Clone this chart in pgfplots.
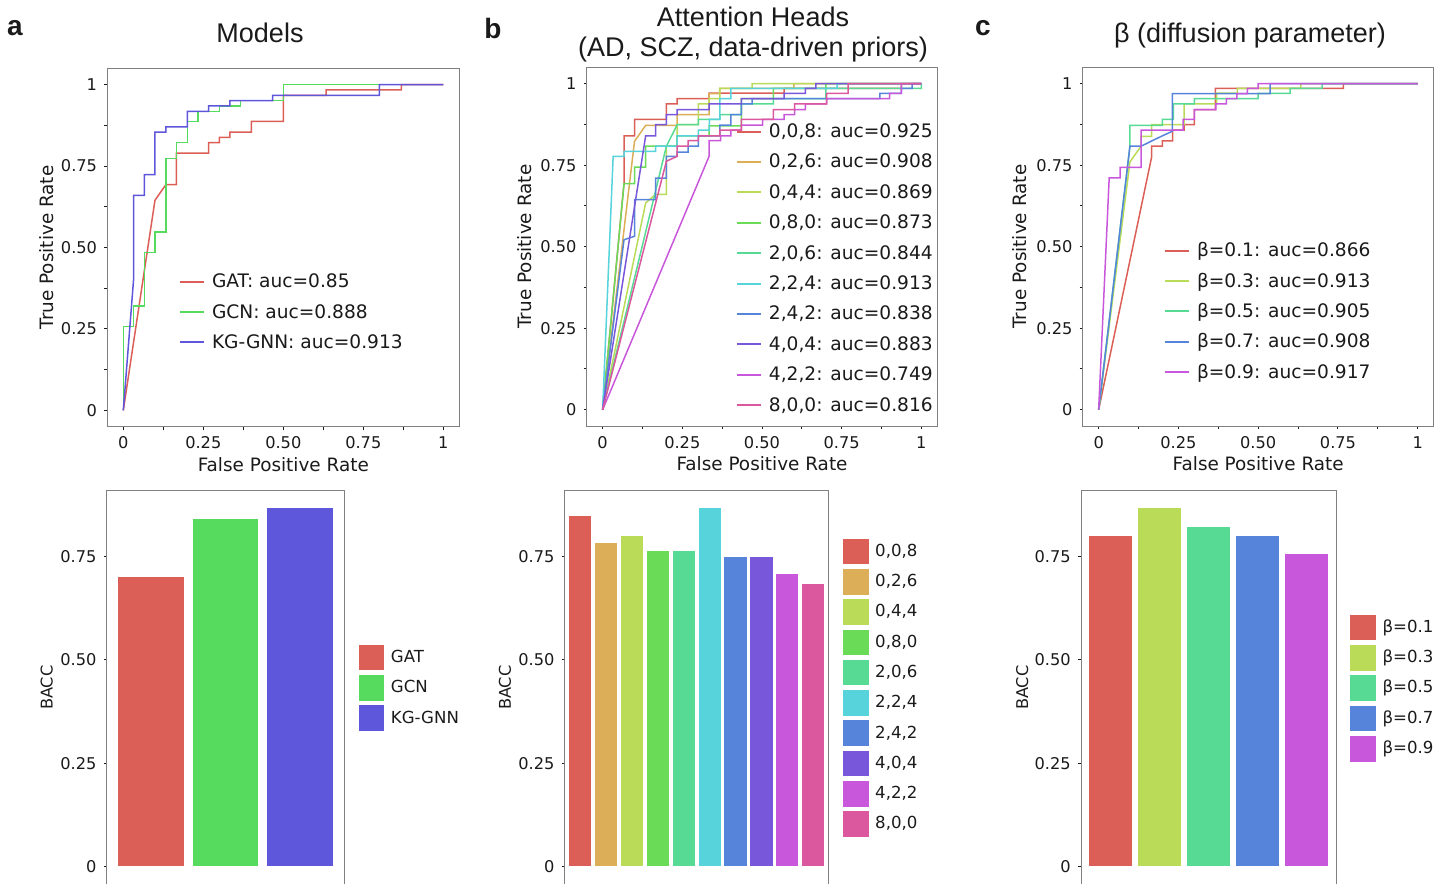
\documentclass[border=0pt]{standalone}
\usepackage{fontspec}
\setmainfont{DejaVu Sans}
\newfontfamily\titlefont{Liberation Sans}
\usepackage{pgfplots}
\pgfplotsset{compat=1.18}

\definecolor{hA}{HTML}{DB5F57}
\definecolor{hB}{HTML}{57DB5F}
\definecolor{hC}{HTML}{5F57DB}
\definecolor{c0}{HTML}{DB5F57}
\definecolor{c1}{HTML}{DBAE57}
\definecolor{c2}{HTML}{B9DB57}
\definecolor{c3}{HTML}{69DB57}
\definecolor{c4}{HTML}{57DB94}
\definecolor{c5}{HTML}{57D3DB}
\definecolor{c6}{HTML}{5784DB}
\definecolor{c7}{HTML}{7957DB}
\definecolor{c8}{HTML}{C957DB}
\definecolor{c9}{HTML}{DB579E}
\definecolor{axgray}{HTML}{808080}
\definecolor{txt}{HTML}{1A1A1A}

\pgfplotsset{
  common/.style={
    scale only axis, anchor=north west,
    tick pos=left, tick align=outside,
    major tick length=1.6pt, minor tick length=1.6pt,
    axis line style={axgray, line width=0.5pt},
    every tick/.style={txt, line width=0.5pt},
    ticklabel style={font=\fontsize{8.1}{9}\selectfont, text=txt},
  },
  roc/.style={
    common,
    xmin=-0.05, xmax=1.05, ymin=-0.05, ymax=1.05,
    xtick={0,0.25,0.5,0.75,1}, xticklabels={0,0.25,0.50,0.75,1},
    ytick={0,0.25,0.5,0.75,1}, yticklabels={0,0.25,0.50,0.75,1},
    minor xtick={0.125,0.375,0.625,0.875},
    minor ytick={0.125,0.375,0.625,0.875},
    xlabel={False Positive Rate}, ylabel={True Positive Rate},
    label style={font=\fontsize{9.2}{11}\selectfont, text=txt},
    xlabel style={at={(axis description cs:0.5,-0.106)}, anchor=center},
    every axis plot/.append style={line width=0.75pt, mark=none},
    legend cell align=left,
    legend image code/.code={\draw[##1, line width=1pt] (0pt,0.5pt) -- (12pt,0.5pt);},
    legend style={draw=none, fill=none, inner sep=0pt, outer sep=0pt, anchor=north west,
      font=\fontsize{9.3}{11}\selectfont, text=txt, row sep=6.6pt, column sep=3.5pt,
      nodes={inner sep=0pt, text height=6.8pt, text depth=1.8pt}},
  },
  bars/.style={
    common,
    ymin=-0.045, ymax=0.91,
    ytick={0,0.25,0.5,0.75}, yticklabels={0,0.25,0.50,0.75},
    xtick=\empty,
    ylabel={BACC},
    label style={font=\fontsize{8.1}{10}\selectfont, text=txt},
    ybar, bar width=0.9, bar shift=0pt,
    every axis plot/.append style={draw=white, line width=0.5pt},
    legend cell align=left,
    legend image code/.code={\draw[##1, line width=0.5pt] (0pt,-6.45pt) rectangle (13.3pt,6.85pt);},
    legend style={draw=none, fill=none, inner sep=0pt, outer sep=0pt, anchor=north west,
      font=\fontsize{8.3}{10}\selectfont, text=txt, row sep=1.35pt, column sep=2.8pt,
      nodes={inner sep=0pt, text height=6.2pt, text depth=1.8pt}},
  },
}

\begin{document}
\begin{tikzpicture}
% ---------- titles and panel letters ----------
\node[font=\titlefont\bfseries\fontsize{14}{16}\selectfont, text=txt] at (7.5pt,-14pt) {a};
\node[font=\titlefont\bfseries\fontsize{14}{16}\selectfont, text=txt] at (246.5pt,-14pt) {b};
\node[font=\titlefont\bfseries\fontsize{14}{16}\selectfont, text=txt] at (491.5pt,-14pt) {c};
\node[font=\titlefont\fontsize{13.5}{15}\selectfont, text=txt] at (130pt,-16.5pt) {Models};
\node[font=\titlefont\fontsize{13.5}{15}\selectfont, text=txt, align=center] at (376.5pt,-17.5pt) {Attention Heads\\(AD, SCZ, data-driven priors)};
\node[font=\titlefont\fontsize{13.5}{15}\selectfont, text=txt] at (625pt,-18pt) {β (diffusion parameter)};

% ---------- ROC a ----------
\begin{axis}[roc, at={(53.65pt,-34.15pt)}, width=176pt, height=179.2pt,
  ylabel style={at={(axis description cs:-0.171,0.5)}, anchor=center},
  legend style={at={(axis description cs:0.2037,0.426)}}]
\addplot[hA] coordinates {(0,0)(0.099,0.645)(0.133,0.693)(0.166,0.693)(0.166,0.79)(0.267,0.79)(0.267,0.822)(0.3,0.822)(0.3,0.838)(0.333,0.838)(0.333,0.854)(0.4,0.854)(0.4,0.887)(0.5,0.887)(0.5,0.967)(0.634,0.967)(0.634,0.984)(0.869,0.984)(0.869,1)(1,1)};
\addlegendentry{GAT: auc=0.85}
\addplot[hB] coordinates {(0,0)(0,0.257)(0.032,0.257)(0.032,0.321)(0.066,0.321)(0.066,0.484)(0.099,0.484)(0.099,0.548)(0.133,0.548)(0.133,0.773)(0.166,0.773)(0.166,0.822)(0.2,0.822)(0.2,0.887)(0.233,0.887)(0.233,0.918)(0.3,0.918)(0.3,0.935)(0.366,0.935)(0.366,0.951)(0.5,0.951)(0.5,1)(1,1)};
\addlegendentry{GCN: auc=0.888}
\addplot[hC] coordinates {(0,0)(0.032,0.40)(0.032,0.66)(0.066,0.66)(0.066,0.724)(0.099,0.724)(0.099,0.854)(0.133,0.854)(0.133,0.87)(0.2,0.87)(0.2,0.918)(0.267,0.918)(0.267,0.935)(0.333,0.935)(0.333,0.951)(0.467,0.951)(0.467,0.967)(0.8,0.967)(0.8,1)(1,1)};
\addlegendentry{KG-GNN: auc=0.913}
\end{axis}

% ---------- ROC b ----------
\begin{axis}[roc, at={(293.35pt,-33.65pt)}, width=175.3pt, height=179.35pt,
  ylabel style={at={(axis description cs:-0.177,0.5)}, anchor=center},
  legend style={at={(axis description cs:0.4258,0.842)}}]
\addplot[c0] coordinates {(0,0)(0.067,0.693)(0.067,0.84)(0.1,0.84)(0.1,0.89)(0.2,0.89)(0.2,0.938)(0.234,0.938)(0.234,0.954)(0.334,0.954)(0.334,0.971)(0.569,0.971)(0.569,0.985)(0.937,0.985)(0.937,1)(1,1)};
\addlegendentry{0,0,8: auc=0.925}
\addplot[c1] coordinates {(0,0)(0.1,0.823)(0.135,0.872)(0.234,0.872)(0.234,0.905)(0.334,0.905)(0.334,0.969)(0.367,0.969)(0.367,0.985)(0.6,0.985)(0.6,1)(1,1)};
\addlegendentry{0,2,6: auc=0.908}
\addplot[c2] coordinates {(0,0)(0.135,0.634)(0.166,0.66)(0.2,0.66)(0.2,0.808)(0.234,0.808)(0.234,0.874)(0.3,0.874)(0.3,0.938)(0.334,0.938)(0.334,0.954)(0.368,0.954)(0.368,0.985)(0.469,0.985)(0.469,1)(1,1)};
\addlegendentry{0,4,4: auc=0.869}
\addplot[c3] coordinates {(0,0)(0.067,0.693)(0.1,0.693)(0.1,0.744)(0.135,0.744)(0.135,0.808)(0.234,0.808)(0.234,0.84)(0.334,0.84)(0.334,0.87)(0.435,0.87)(0.435,0.954)(0.536,0.954)(0.536,0.985)(0.7,0.985)(0.7,1)(1,1)};
\addlegendentry{0,8,0: auc=0.873}
\addplot[c4] coordinates {(0,0)(0.2,0.808)(0.234,0.874)(0.3,0.874)(0.3,0.89)(0.368,0.89)(0.368,0.905)(0.435,0.905)(0.435,0.938)(0.536,0.938)(0.536,0.954)(0.7,0.954)(0.7,0.985)(1,0.985)(1,1)};
\addlegendentry{2,0,6: auc=0.844}
\addplot[c5] coordinates {(0,0)(0.033,0.777)(0.067,0.777)(0.067,0.792)(0.166,0.792)(0.166,0.808)(0.234,0.808)(0.234,0.84)(0.3,0.84)(0.3,0.857)(0.335,0.857)(0.335,0.89)(0.368,0.89)(0.368,0.954)(0.402,0.954)(0.402,0.985)(0.736,0.985)(0.736,1)(1,1)};
\addlegendentry{2,2,4: auc=0.913}
\addplot[c6] coordinates {(0,0)(0.067,0.521)(0.1,0.532)(0.1,0.644)(0.166,0.644)(0.166,0.71)(0.2,0.71)(0.2,0.777)(0.234,0.777)(0.234,0.79)(0.268,0.79)(0.268,0.808)(0.3,0.808)(0.3,0.84)(0.368,0.84)(0.368,0.873)(0.402,0.873)(0.402,0.905)(0.435,0.905)(0.435,0.938)(0.469,0.938)(0.469,0.954)(0.87,0.954)(0.87,0.97)(0.937,0.97)(0.937,0.985)(0.971,0.985)(0.971,1)(1,1)};
\addlegendentry{2,4,2: auc=0.838}
\addplot[c7] coordinates {(0,0)(0.135,0.84)(0.166,0.84)(0.166,0.874)(0.2,0.874)(0.2,0.905)(0.234,0.905)(0.234,0.92)(0.334,0.92)(0.334,0.938)(0.435,0.938)(0.435,0.954)(0.569,0.954)(0.569,0.97)(0.636,0.97)(0.636,0.985)(0.669,0.985)(0.669,1)(1,1)};
\addlegendentry{4,0,4: auc=0.883}
\addplot[c8] coordinates {(0,0)(0.334,0.777)(0.334,0.825)(0.37,0.825)(0.37,0.84)(0.402,0.84)(0.402,0.857)(0.435,0.857)(0.435,0.873)(0.502,0.873)(0.502,0.89)(0.569,0.89)(0.569,0.905)(0.602,0.905)(0.602,0.92)(0.636,0.92)(0.636,0.938)(0.703,0.938)(0.703,0.954)(0.9,0.954)(0.9,0.97)(0.937,0.97)(0.937,1)(1,1)};
\addlegendentry{4,2,2: auc=0.749}
\addplot[c9] coordinates {(0,0)(0.2,0.762)(0.234,0.777)(0.234,0.808)(0.268,0.808)(0.268,0.825)(0.3,0.825)(0.3,0.84)(0.368,0.84)(0.368,0.857)(0.435,0.857)(0.435,0.89)(0.536,0.89)(0.536,0.92)(0.602,0.92)(0.602,0.938)(0.703,0.938)(0.703,0.97)(0.77,0.97)(0.77,1)(1,1)};
\addlegendentry{8,0,0: auc=0.816}
\end{axis}

% ---------- ROC c ----------
\begin{axis}[roc, at={(541.35pt,-33.65pt)}, width=175.5pt, height=179.35pt,
  ylabel style={at={(axis description cs:-0.179,0.5)}, anchor=center},
  legend style={at={(axis description cs:0.2316,0.510)}}]
\addplot[c0] coordinates {(0,0)(0.166,0.775)(0.166,0.808)(0.2,0.808)(0.2,0.824)(0.232,0.824)(0.232,0.857)(0.268,0.857)(0.268,0.874)(0.3,0.874)(0.3,0.92)(0.366,0.92)(0.366,0.985)(0.767,0.985)(0.767,1)(1,1)};
\addlegendentry{β=0.1: auc=0.866}
\addplot[c2] coordinates {(0,0)(0.098,0.76)(0.133,0.808)(0.133,0.838)(0.166,0.838)(0.166,0.874)(0.268,0.874)(0.268,0.938)(0.37,0.938)(0.37,0.971)(0.435,0.971)(0.435,0.985)(0.634,0.985)(0.634,1)(1,1)};
\addlegendentry{β=0.3: auc=0.913}
\addplot[c4] coordinates {(0,0)(0.098,0.808)(0.098,0.872)(0.2,0.872)(0.2,0.89)(0.234,0.89)(0.234,0.938)(0.3,0.938)(0.3,0.954)(0.5,0.954)(0.5,0.97)(0.6,0.97)(0.6,0.985)(0.7,0.985)(0.7,1)(1,1)};
\addlegendentry{β=0.5: auc=0.905}
\addplot[c6] coordinates {(0,0)(0.098,0.808)(0.133,0.808)(0.166,0.824)(0.2,0.84)(0.231,0.854)(0.231,0.969)(0.537,0.969)(0.537,1)(1,1)};
\addlegendentry{β=0.7: auc=0.908}
\addplot[c8] coordinates {(0,0)(0.033,0.711)(0.067,0.711)(0.067,0.743)(0.133,0.743)(0.133,0.857)(0.265,0.857)(0.265,0.89)(0.3,0.89)(0.3,0.92)(0.367,0.92)(0.367,0.938)(0.4,0.938)(0.4,0.954)(0.433,0.954)(0.433,0.969)(0.466,0.969)(0.466,0.985)(0.5,0.985)(0.5,1)(1,1)};
\addlegendentry{β=0.9: auc=0.917}
\end{axis}

% ---------- Bars a ----------
\begin{axis}[bars, at={(53.35pt,-245pt)}, width=118.8pt, height=197.7pt,
  xmin=-0.6, xmax=2.6,
  ylabel style={at={(axis description cs:-0.2525,0.5)}, anchor=center},
  legend style={at={(axis description cs:1.0564,0.611)}}]
\addplot[fill=hA] coordinates {(0,0.700)}; \addlegendentry{GAT}
\addplot[fill=hB] coordinates {(1,0.842)}; \addlegendentry{GCN}
\addplot[fill=hC] coordinates {(2,0.867)}; \addlegendentry{KG-GNN}
\end{axis}

% ---------- Bars b ----------
\begin{axis}[bars, at={(282.35pt,-245pt)}, width=132pt, height=197.7pt,
  xmin=-0.6, xmax=9.6,
  ylabel style={at={(axis description cs:-0.226,0.5)}, anchor=center},
  legend style={at={(axis description cs:1.0504,0.8796)}}]
\addplot[fill=c0] coordinates {(0,0.849)}; \addlegendentry{0,0,8}
\addplot[fill=c1] coordinates {(1,0.784)}; \addlegendentry{0,2,6}
\addplot[fill=c2] coordinates {(2,0.800)}; \addlegendentry{0,4,4}
\addplot[fill=c3] coordinates {(3,0.765)}; \addlegendentry{0,8,0}
\addplot[fill=c4] coordinates {(4,0.765)}; \addlegendentry{2,0,6}
\addplot[fill=c5] coordinates {(5,0.867)}; \addlegendentry{2,2,4}
\addplot[fill=c6] coordinates {(6,0.750)}; \addlegendentry{2,4,2}
\addplot[fill=c7] coordinates {(7,0.750)}; \addlegendentry{4,0,4}
\addplot[fill=c8] coordinates {(8,0.708)}; \addlegendentry{4,2,2}
\addplot[fill=c9] coordinates {(9,0.683)}; \addlegendentry{8,0,0}
\end{axis}

% ---------- Bars c ----------
\begin{axis}[bars, at={(540.5pt,-245pt)}, width=127.5pt, height=197.7pt,
  xmin=-0.6, xmax=4.6,
  ylabel style={at={(axis description cs:-0.231,0.5)}, anchor=center},
  legend style={at={(axis description cs:1.0522,0.687)}}]
\addplot[fill=c0] coordinates {(0,0.799)}; \addlegendentry{β=0.1}
\addplot[fill=c2] coordinates {(1,0.867)}; \addlegendentry{β=0.3}
\addplot[fill=c4] coordinates {(2,0.823)}; \addlegendentry{β=0.5}
\addplot[fill=c6] coordinates {(3,0.799)}; \addlegendentry{β=0.7}
\addplot[fill=c8] coordinates {(4,0.757)}; \addlegendentry{β=0.9}
\end{axis}

\pgfresetboundingbox
\path[use as bounding box] (0pt,0pt) rectangle (725pt,-441.5pt);
\end{tikzpicture}
\end{document}
